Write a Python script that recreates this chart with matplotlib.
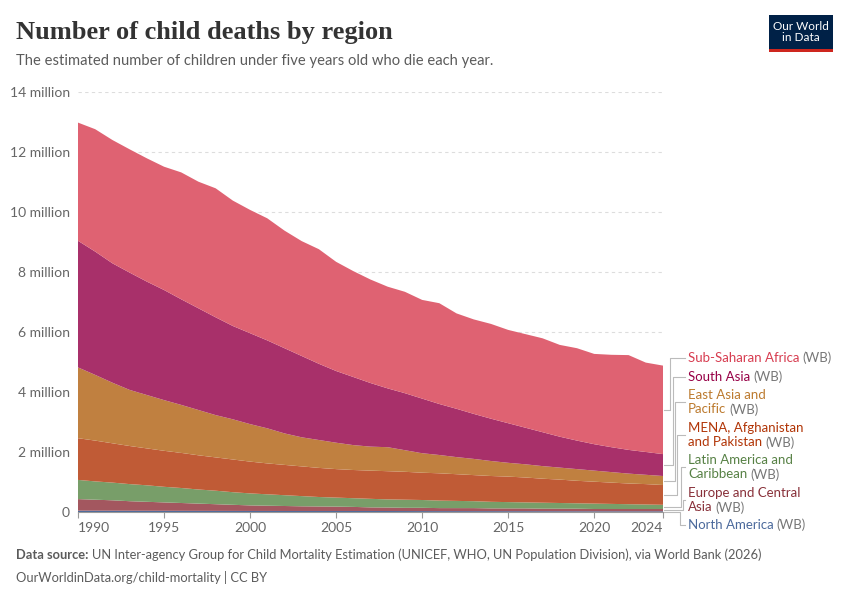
import matplotlib.pyplot as plt
from matplotlib.patches import Rectangle

# child deaths under five, thousands
years = list(range(1990, 2025))

north_america = [45, 44, 43, 42, 41, 40, 39, 38, 37, 36, 35, 35, 34, 34, 34, 34, 34, 34,
                 33, 32, 31, 30, 30, 29, 29, 28, 28, 27, 26, 25, 24, 24, 24, 24, 24]
europe = [385, 366, 347, 318, 299, 280, 261, 242, 223, 204, 185, 175, 166, 156, 151, 146, 136, 120,
          117, 108, 109, 100, 100, 101, 91, 92, 92, 83, 84, 85, 76, 76, 76, 76, 76]
latin_america = [640, 610, 590, 570, 550, 520, 500, 470, 450, 420, 400, 380, 360, 340, 315, 300, 290, 285,
                 270, 270, 260, 250, 240, 230, 220, 210, 200, 200, 190, 180, 180, 170, 160, 150, 140]
mena = [1390, 1360, 1310, 1270, 1230, 1200, 1170, 1140, 1110, 1090, 1060, 1030, 1010, 990, 970, 950, 940, 940,
        940, 930, 910, 910, 890, 870, 860, 850, 830, 800, 780, 750, 730, 710, 690, 680, 660]
east_asia = [2360, 2190, 2020, 1870, 1780, 1690, 1600, 1510, 1410, 1340, 1250, 1170, 1050, 970, 930, 880, 830, 800,
             800, 720, 650, 610, 570, 540, 500, 460, 440, 420, 400, 390, 370, 350, 330, 310, 300]
south_asia = [4220, 4110, 3980, 3910, 3780, 3670, 3520, 3390, 3260, 3110, 3030, 2930, 2840, 2710, 2540, 2390, 2270, 2120,
              1960, 1900, 1820, 1700, 1610, 1500, 1410, 1320, 1220, 1130, 1030, 950, 880, 830, 790, 760, 730]
sub_saharan = [3940, 4080, 4110, 4110, 4110, 4110, 4230, 4220, 4300, 4180, 4110, 4070, 3920, 3830, 3820, 3640, 3530, 3450,
               3390, 3380, 3290, 3360, 3180, 3150, 3160, 3110, 3120, 3130, 3060, 3080, 3010, 3080, 3160, 2980, 2950]

series = [north_america, europe, latin_america, mena, east_asia, south_asia, sub_saharan]
fill_colors = ['#4c6a9c', '#a3575f', '#789e69', '#c05b36', '#c08040', '#a8306a', '#df6272']
text_colors = ['#4c6a9c', '#883039', '#578145', '#b13507', '#bc7a2e', '#970046', '#d73c50']
labels = ['North America', 'Europe and Central\nAsia', 'Latin America and\nCaribbean',
          'MENA, Afghanistan\nand Pakistan', 'East Asia and\nPacific', 'South Asia', 'Sub-Saharan Africa']
label_y = [525, 500, 467, 435, 402, 377, 358]      # pixel centres of label blocks
elbow_x = [680, 683, 681, 677, 675, 672.5, 669.5]

W, H = 850, 600
plt.rcParams['font.family'] = ['Lato', 'DejaVu Sans']

fig = plt.figure(figsize=(8.5, 6), dpi=100)
ax = fig.add_axes([78 / W, 1 - 512 / H, (663 - 78) / W, (512 - 92) / H])

ax.stackplot(years, *[[v / 1000 for v in s] for s in series], colors=fill_colors, linewidth=0)

ax.set_xlim(1990, 2024)
ax.set_ylim(0, 14)
y_ticks = list(range(0, 16, 2))
ax.set_yticks(y_ticks)
ax.set_yticklabels(['0'] + ['%d million' % t for t in y_ticks[1:]])
ax.tick_params(axis='y', length=0, pad=6, labelsize=10, labelcolor='#666666')
for t in y_ticks[1:]:
    ax.axhline(t, color='#dddddd', lw=0.8, ls=(0, (3, 3)), zorder=0)

x_ticks = [1990, 1995, 2000, 2005, 2010, 2015, 2020, 2024]
ax.set_xticks(x_ticks)
ax.set_xticklabels([str(t) for t in x_ticks])
ax.tick_params(axis='x', length=4, width=0.8, color='#999999', pad=3, labelsize=10, labelcolor='#666666')
xl = ax.get_xticklabels()
xl[0].set_horizontalalignment('left')
xl[-1].set_horizontalalignment('right')

for side in ['top', 'right', 'left']:
    ax.spines[side].set_visible(False)
ax.spines['bottom'].set_color('#999999')
ax.spines['bottom'].set_linewidth(0.8)

# right-hand labels with connector lines
cum = 0
for s, lab, tc, ly, ex in zip(series, labels, text_colors, label_y, elbow_x):
    mid = cum + s[-1] / 2000
    cum += s[-1] / 1000
    ypx = 512 - mid * 30
    fig.add_artist(plt.Line2D([664 / W, ex / W, ex / W, 685 / W],
                              [1 - ypx / H, 1 - ypx / H, 1 - ly / H, 1 - ly / H],
                              color='#bbbbbb', lw=0.8))
    lines = lab.split('\n')
    n = len(lines)
    for i, line in enumerate(lines):
        yy = ly + (i - (n - 1) / 2) * 14.5
        if i == n - 1:
            t = fig.text(688 / W, 1 - yy / H, line, color=tc, fontsize=9.5, va='center')
            fig.canvas.draw()
            bb = t.get_window_extent()
            fig.text((bb.x1 + 3) / W, 1 - yy / H, '(WB)', color='#777777', fontsize=9.5, va='center')
        else:
            fig.text(688 / W, 1 - yy / H, line, color=tc, fontsize=9.5, va='center')

fig.text(16 / W, 1 - 32 / H, 'Number of child deaths by region', fontsize=19,
         family=['Liberation Serif'], color='#333333', va='center', weight='bold')
fig.text(16 / W, 1 - 61 / H, 'The estimated number of children under five years old who die each year.',
         fontsize=10.65, color='#5b5b5b', va='center')

t = fig.text(16 / W, 1 - 555 / H, 'Data source:', fontsize=9.25, color='#5b5b5b', va='center', weight='bold')
fig.canvas.draw()
bb = t.get_window_extent()
fig.text((bb.x1 + 3) / W, 1 - 555 / H,
         'UN Inter-agency Group for Child Mortality Estimation (UNICEF, WHO, UN Population Division), via World Bank (2026)',
         fontsize=9.25, color='#5b5b5b', va='center')
fig.text(16 / W, 1 - 577 / H, 'OurWorldinData.org/child-mortality | CC BY', fontsize=9.25, color='#5b5b5b', va='center')

# logo
fig.add_artist(Rectangle((769 / W, 1 - 52 / H), 64 / W, 37 / H, transform=fig.transFigure,
                         facecolor='#002147', edgecolor='none'))
fig.add_artist(Rectangle((769 / W, 1 - 52 / H), 64 / W, 3 / H, transform=fig.transFigure,
                         facecolor='#ce261e', edgecolor='none'))
fig.text(801 / W, 1 - 32 / H, 'Our World\nin Data', color='white', fontsize=8.5, ha='center', va='center',
         linespacing=1.0)

fig.savefig('out.png', dpi=100)
